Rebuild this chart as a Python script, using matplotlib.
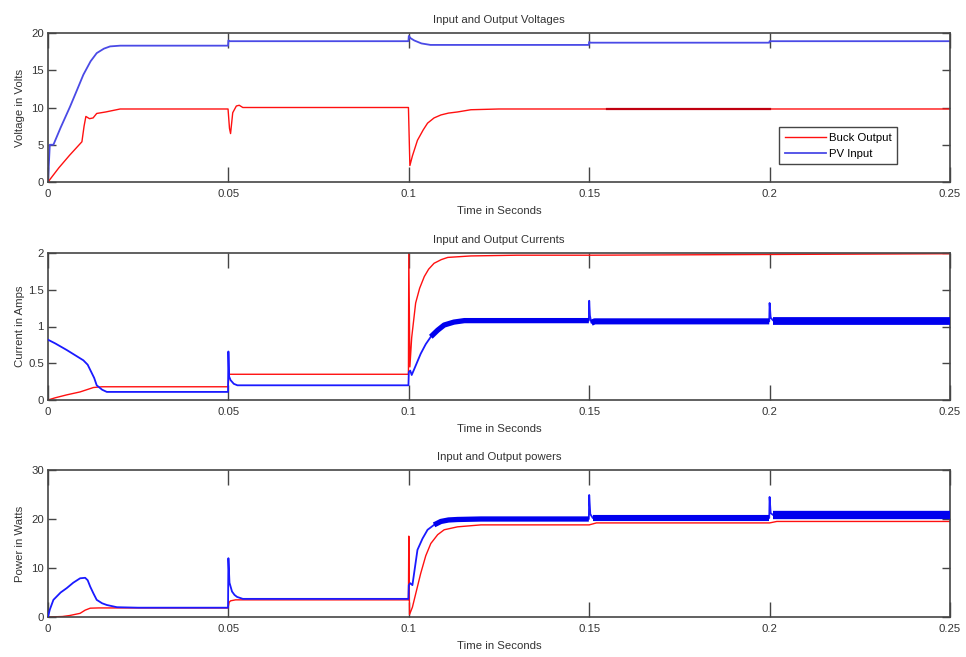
import numpy as np
import matplotlib
matplotlib.use("Agg")
import matplotlib.pyplot as plt

plt.rcParams['font.family'] = ['Liberation Sans Narrow', 'Liberation Sans', 'DejaVu Sans']

# ---------------- data ----------------
# Voltages
t_v_pv = [0, 0.0003, 0.0005, 0.0015, 0.0035, 0.0061, 0.0080, 0.0098, 0.0118, 0.0135, 0.0155,
          0.0172, 0.020, 0.0499, 0.0500, 0.0503, 0.0999, 0.1000, 0.1005, 0.1015, 0.1035, 0.106,
          0.110, 0.114, 0.1499, 0.1500, 0.1503, 0.1999, 0.2000, 0.2003, 0.25]
v_pv = [0, 3.0, 5.0, 5.0, 7.3, 10.1, 12.3, 14.4, 16.2, 17.3, 17.9,
        18.2, 18.3, 18.3, 19.0, 18.9, 18.9, 19.6, 19.3, 19.0, 18.6, 18.4,
        18.4, 18.4, 18.4, 18.8, 18.7, 18.7, 18.9, 18.9, 18.9]

t_v_buck = [0, 0.003, 0.006, 0.0094, 0.0100, 0.0105, 0.0115, 0.0125, 0.0135, 0.016, 0.020,
            0.0499, 0.0503, 0.0506, 0.0512, 0.0522, 0.0530, 0.054, 0.0999, 0.1003, 0.1010,
            0.1024, 0.1040, 0.1052, 0.1070, 0.1089, 0.1110, 0.1135, 0.1172, 0.125, 0.25]
v_buck = [0, 1.9, 3.6, 5.4, 7.5, 8.8, 8.5, 8.6, 9.2, 9.4, 9.8,
          9.8, 7.2, 6.5, 9.3, 10.2, 10.3, 10.0, 10.0, 2.2, 3.5,
          5.6, 7.0, 7.9, 8.6, 9.0, 9.25, 9.4, 9.7, 9.8, 9.8]

# Currents
t_i_pv = [0, 0.002, 0.0052, 0.0075, 0.0098, 0.0110, 0.0117, 0.0128, 0.0135, 0.0150, 0.0163,
          0.020, 0.0499, 0.0500, 0.0502, 0.0506, 0.0515, 0.0525, 0.055, 0.0999, 0.1000,
          0.1004, 0.1008, 0.1015, 0.1033, 0.1047, 0.1061, 0.1080, 0.1098, 0.1125, 0.1154,
          0.120, 0.1499, 0.1500, 0.1502, 0.1506, 0.1515, 0.1999, 0.2000, 0.2003, 0.2010, 0.25]
i_pv = [0.82, 0.77, 0.68, 0.61, 0.54, 0.48, 0.41, 0.30, 0.20, 0.14, 0.11,
        0.11, 0.11, 0.66, 0.32, 0.27, 0.22, 0.20, 0.20, 0.20, 0.38,
        0.40, 0.34, 0.42, 0.63, 0.76, 0.86, 0.95, 1.02, 1.06, 1.08,
        1.08, 1.08, 1.35, 1.15, 1.05, 1.07, 1.07, 1.32, 1.12, 1.08, 1.08]

t_i_buck = [0, 0.002, 0.0052, 0.0089, 0.0126, 0.015, 0.0499, 0.0502, 0.0999, 0.1000, 0.1003,
            0.1008, 0.1019, 0.1030, 0.1043, 0.1055, 0.1070, 0.1090, 0.1108, 0.1140, 0.1172,
            0.130, 0.150, 0.200, 0.25]
i_buck = [0, 0.03, 0.07, 0.11, 0.17, 0.18, 0.18, 0.35, 0.35, 2.0, 0.45,
          0.85, 1.32, 1.52, 1.68, 1.78, 1.86, 1.91, 1.94, 1.95, 1.96,
          1.97, 1.97, 1.98, 1.99]

# Powers
t_p_pv = [0, 0.0005, 0.0015, 0.0035, 0.0052, 0.0070, 0.0089, 0.0103, 0.0110, 0.0117, 0.0126,
          0.0135, 0.0150, 0.0163, 0.0191, 0.025, 0.0499, 0.0500, 0.0503, 0.0510, 0.0517,
          0.0524, 0.054, 0.0999, 0.1000, 0.1004, 0.1010, 0.1024, 0.1038, 0.1052, 0.1070,
          0.1089, 0.1110, 0.1135, 0.120, 0.1499, 0.1500, 0.1503, 0.1510, 0.1999, 0.2000,
          0.2003, 0.2010, 0.25]
p_pv = [0, 1.5, 3.5, 5.0, 5.9, 7.0, 7.9, 8.0, 7.5, 6.2, 4.8,
        3.5, 2.8, 2.45, 2.0, 1.9, 1.9, 12.0, 7.0, 5.2, 4.5,
        4.1, 3.7, 3.7, 6.5, 6.9, 6.5, 13.7, 16.0, 17.8, 18.8,
        19.5, 19.8, 19.9, 20.0, 20.0, 24.9, 21.0, 20.2, 20.2, 24.5,
        21.2, 20.8, 20.8]

t_p_buck = [0, 0.004, 0.006, 0.0089, 0.0103, 0.0117, 0.014, 0.0499, 0.0502, 0.0506, 0.0520,
            0.0999, 0.1000, 0.1002, 0.1010, 0.1020, 0.1033, 0.1047, 0.1061, 0.1080, 0.1098,
            0.1135, 0.120, 0.150, 0.152, 0.200, 0.202, 0.25]
p_buck = [0, 0.1, 0.3, 0.75, 1.4, 1.8, 1.85, 1.85, 3.0, 3.3, 3.5,
          3.5, 16.5, 0.5, 2.0, 5.0, 8.9, 12.5, 15.0, 16.8, 17.8,
          18.4, 18.8, 18.8, 19.2, 19.2, 19.5, 19.5]

x_ticks = [0, 0.05, 0.1, 0.15, 0.2, 0.25]
x_ticklabels = ['0', '0.05', '0.1', '0.15', '0.2', '0.25']
titles = ['Input and Output Voltages', 'Input and Output Currents', 'Input and Output powers']
ylabels = ['Voltage in Volts', 'Current in Amps', 'Power in Watts']
xlabel = 'Time in Seconds'
y_ticks = [[0, 5, 10, 15, 20], [0, 0.5, 1, 1.5, 2], [0, 10, 20, 30]]
y_ticklabels = [['0', '5', '10', '15', '20'], ['0', '0.5', '1', '1.5', '2'], ['0', '10', '20', '30']]
y_lims = [(0, 20), (0, 2), (0, 30)]
legend_labels = ['Buck Output', 'PV Input']

# ---------------- drawing ----------------
W, H = 966, 657
fig = plt.figure(figsize=(W / 100, H / 100), dpi=100)
fig.patch.set_facecolor('white')

left, right = 48, 950
boxes = [(33, 182), (253, 400), (470, 617)]
RED = '#ff1010'
BLUE = '#1a1aff'
AXC = '#454545'
FS = 8.2

series = [
    ((t_v_buck, v_buck), (t_v_pv, v_pv)),
    ((t_i_buck, i_buck), (t_i_pv, i_pv)),
    ((t_p_buck, p_buck), (t_p_pv, p_pv)),
]

# ripple-band display windows (time ranges) and line widths, per panel
band_windows = {
    1: [((0.1061, 0.1499), 3.8), ((0.1506, 0.1999), 4.4), ((0.2010, 0.25), 5.6)],
    2: [((0.1070, 0.1499), 3.8), ((0.1510, 0.1999), 4.4), ((0.2010, 0.25), 6.0)],
}

axes = []
for k, (top, bot) in enumerate(boxes):
    ax = fig.add_axes([left / W, 1 - bot / H, (right - left) / W, (bot - top) / H])
    axes.append(ax)
    (tb, vb), (tp, vp) = series[k]
    tb = np.asarray(tb); vb = np.asarray(vb)
    tp = np.asarray(tp); vp = np.asarray(vp)
    if k == 0:
        lb, = ax.plot(tb, vb, color=RED, lw=1.0)
        lp, = ax.plot(tp, vp, color='#4a4ae6', lw=1.3)
        ax.plot([0.155, 0.2], [vb[-1], vb[-1]], color='#c00010', lw=1.6)
    else:
        lb, = ax.plot(tb, vb, color=RED, lw=1.0, zorder=2)
        lp, = ax.plot(tp, vp, color=BLUE, lw=1.3, zorder=3)
        for (a, b), w in band_windows[k]:
            m = (tp >= a) & (tp <= b)
            ax.plot(tp[m], vp[m], color='#0000ee', lw=w, zorder=3, solid_capstyle='butt')
    ax.set_xlim(0, 0.25)
    ax.set_ylim(*y_lims[k])
    ax.set_xticks(x_ticks)
    ax.set_xticklabels(x_ticklabels)
    ax.set_yticks(y_ticks[k])
    ax.set_yticklabels(y_ticklabels[k])
    ax.tick_params(axis='x', direction='in', length=11, width=1.0, color=AXC,
                   top=True, bottom=True, labelsize=FS, labelcolor='#333333', pad=5)
    ax.tick_params(axis='y', direction='in', length=6, width=1.0, color=AXC,
                   left=True, right=True, labelsize=FS, labelcolor='#333333', pad=3)
    for s in ax.spines.values():
        s.set_color(AXC)
        s.set_linewidth(1.2)
    ax.set_title(titles[k], fontsize=FS, color='#333333', pad=7)
    ax.set_xlabel(xlabel, fontsize=FS, color='#333333', labelpad=5)
    ax.set_ylabel(ylabels[k], fontsize=FS, color='#333333')
    ax.yaxis.set_label_coords(-0.026, 0.5)
    if k == 0:
        leg = ax.legend([lb, lp], legend_labels, loc='lower right',
                        bbox_to_anchor=(0.948, 0.08), fontsize=FS, handlelength=3.6,
                        fancybox=False, framealpha=1, edgecolor=AXC, borderpad=0.5,
                        labelspacing=0.5, handletextpad=0.3)
        leg.get_frame().set_linewidth(1.0)

fig.savefig('out.png', dpi=100, facecolor='white')
